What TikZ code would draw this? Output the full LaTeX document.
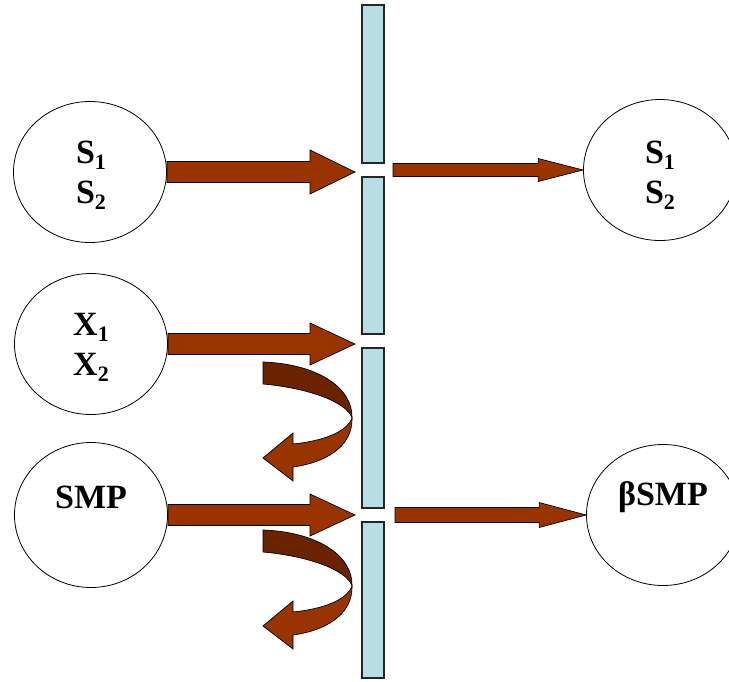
\documentclass[tikz,border=0pt]{standalone}
\usepackage{fontspec}
\setmainfont{Liberation Serif}
\usetikzlibrary{shapes.geometric,calc}
\definecolor{arrowbrown}{HTML}{993300}
\definecolor{arrowdark}{HTML}{6B2200}
\definecolor{membrane}{HTML}{B7DFE3}
\newcommand{\sbs}[1]{\raisebox{-6pt}{\fontsize{22}{22}\selectfont #1}}
\newcommand{\blockarrow}[5]{%
  \filldraw[blk] let \p1=(#1), \p2=(#2) in
    (\x1,\y1+#3pt) -- (\x2-#5pt,\y1+#3pt) -- (\x2-#5pt,\y1+#4pt) -- (\x2,\y2)
    -- (\x2-#5pt,\y1-#4pt) -- (\x2-#5pt,\y1-#3pt) -- (\x1,\y1-#3pt) -- cycle;}
\begin{document}
\begin{tikzpicture}[x=1pt,y=-1pt,
  pool/.style={ellipse,draw=black,line width=0.8pt,fill=white,minimum width=153pt,minimum height=141pt,inner sep=0pt},
  lbl/.style={font=\fontsize{34}{40}\selectfont\bfseries,align=center,inner sep=0pt},
  wall/.style={draw=black!85,line width=1.3pt,fill=membrane,minimum width=22pt,inner sep=0pt},
  blk/.style={fill=arrowbrown,draw=black,line width=0.7pt},
  blkdark/.style={fill=arrowdark,draw=black,line width=0.7pt}]
\useasboundingbox (0,0) rectangle (729,681);

% membrane segments
\node[wall,minimum height=158pt] (m1) at (373,84) {};
\node[wall,minimum height=157pt] (m2) at (373,255.5) {};
\node[wall,minimum height=160pt] (m3) at (373,428) {};
\node[wall,minimum height=156pt] (m4) at (373,600) {};

% pools
\node[pool] (s12) at (90,172) {};
\node[lbl] (s12t) at (91,175) {S\sbs{1}\\S\sbs{2}};
\node[pool] (x12) at (91,344) {};
\node[lbl] (x12t) at (91,347) {X\sbs{1}\\X\sbs{2}};
\node[pool,minimum height=145pt] (smp) at (91,515) {};
\node[lbl,anchor=base] (smpt) at (91,508) {SMP};
\node[pool] (r12) at (660,170) {};
\node[lbl] (r12t) at (660,175) {S\sbs{1}\\S\sbs{2}};
\node[pool] (bsmp) at (663,515) {};
\node[lbl,anchor=base] (bsmpt) at (663,505) {βSMP};

% gaps / free ends
\coordinate (tip1) at (355,172);
\coordinate (tip2) at (355,344);
\coordinate (tip3) at (355,515);
\coordinate (out1) at (393,170);
\coordinate (out3) at (395,515);

% curled (rejected) arrows
\foreach \dy/\nm in {0/curlA,168/curlB}{
  \begin{scope}[shift={(263,362+\dy)}]
    \coordinate (\nm) at (0,0);
    \filldraw[blk] (89,56) .. controls (90,86) and (60,101) .. (30,105)
      -- (30,119) -- (0,96) -- (30,71) -- (30,82)
      .. controls (60,79) and (84,70) .. (89,56) -- cycle;
    \filldraw[blkdark] (0,0) .. controls (55,2) and (90,26) .. (89,56)
      .. controls (84,40) and (45,26) .. (0,22) -- cycle;
  \end{scope}
}

% straight arrows
\blockarrow{s12.east}{tip1}{10.5}{22}{45}
\blockarrow{x12.east}{tip2}{10.5}{21}{45}
\blockarrow{smp.east}{tip3}{10.5}{21}{45}
\blockarrow{out1}{r12.west}{6.5}{11.5}{45}
\blockarrow{out3}{bsmp.west}{7.5}{12.5}{47}
\end{tikzpicture}
\end{document}
